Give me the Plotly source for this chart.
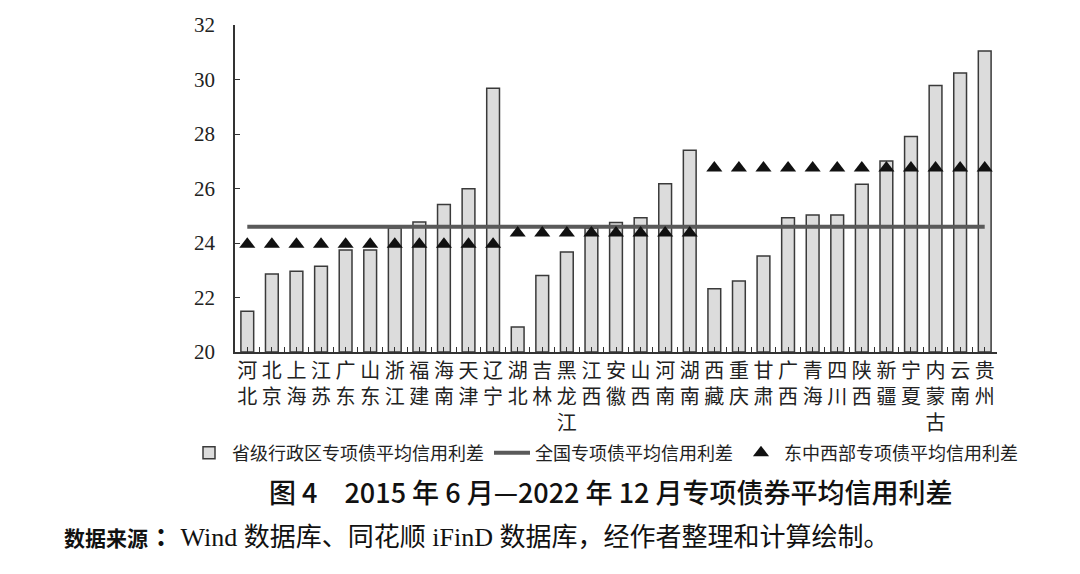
import plotly.graph_objects as go

provinces = ["河北", "北京", "上海", "江苏", "广东", "山东", "浙江", "福建", "海南", "天津", "辽宁",
             "湖北", "吉林", "黑龙江", "江西", "安徽", "山西", "河南", "湖南",
             "西藏", "重庆", "甘肃", "广西", "青海", "四川", "陕西", "新疆", "宁夏", "内蒙古", "云南", "贵州"]
province_spread = [21.5, 22.86, 22.96, 23.15, 23.74, 23.74, 24.55, 24.77, 25.41, 25.99, 29.68,
                   20.92, 22.81, 23.67, 24.55, 24.75, 24.93, 26.17, 27.4,
                   22.32, 22.61, 23.52, 24.93, 25.03, 25.03, 26.16, 27.01, 27.91, 29.78, 30.24, 31.05]
national_spread = 24.6
region_spread = {"东部": 23.95, "中部": 24.37, "西部": 26.75}
region_of = ["东部"] * 11 + ["中部"] * 8 + ["西部"] * 12

y_ticks = [20, 22, 24, 26, 28, 30, 32]

idx = list(range(len(provinces)))
tick_text = ["<br>".join(list(p)) for p in provinces]

serif = "Liberation Serif, Noto Sans CJK SC"
cjk = "Noto Sans CJK SC"

fig = go.Figure()
fig.add_trace(go.Bar(
    x=idx, y=[v - 20 for v in province_spread], base=20,
    width=0.52,
    marker=dict(color="#dcdcdc", line=dict(color="#3a3a3a", width=1.5)),
    name="省级行政区专项债平均信用利差",
))
fig.add_trace(go.Scatter(
    x=idx, y=[national_spread] * len(idx), mode="lines",
    line=dict(color="#5a5a5a", width=4),
    name="全国专项债平均信用利差",
))
fig.add_trace(go.Scatter(
    x=idx, y=[region_spread[r] for r in region_of], mode="markers",
    marker=dict(symbol="triangle-up", color="#111111", size=14),
    name="东中西部专项债平均信用利差",
))

fig.update_layout(
    width=1080, height=574,
    margin=dict(l=235, r=83, t=25, b=222),
    paper_bgcolor="white", plot_bgcolor="white",
    showlegend=True,
    legend=dict(orientation="h", x=(186 - 235) / 762, xanchor="left", y=-0.309, yanchor="middle",
                font=dict(family=cjk, size=18, color="#222"), itemwidth=36,
                traceorder="normal", tracegroupgap=0, bgcolor="rgba(0,0,0,0)"),
    bargap=0.5,
)
fig.update_xaxes(
    range=[-0.5, 30.5], tickmode="array", tickvals=idx, ticktext=tick_text,
    showline=True, linecolor="#333", linewidth=1.5,
    ticks="inside", ticklen=5, tickcolor="#333",
    minor=dict(ticks="inside", ticklen=5, tickcolor="#333", tick0=0.5, dtick=1),
    tickfont=dict(family=cjk, size=20, color="#222"),
    showgrid=False, zeroline=False, tickangle=0,
)
fig.update_yaxes(
    range=[20, 32], tickmode="array", tickvals=y_ticks,
    showline=True, linecolor="#333", linewidth=1.5,
    ticks="inside", ticklen=5, tickcolor="#333",
    ticklabelstandoff=14,
    tickfont=dict(family=serif, size=21, color="#222"),
    showgrid=False, zeroline=False,
)

fig.add_annotation(
    text="图 4　2015 年 6 月—2022 年 12 月专项债券平均信用利差",
    xref="paper", yref="paper", x=(611 - 235) / 762, y=-0.428,
    xanchor="center", yanchor="middle", showarrow=False,
    font=dict(family=cjk, size=27, color="#111", weight=500),
)
fig.add_annotation(
    text="<span style='font-size:21px;font-family:Noto Sans CJK SC'><b>数据来源</b></span>"
         "<b> ：</b>Wind 数据库、同花顺 iFinD 数据库，经作者整理和计算绘制。",
    xref="paper", yref="paper", x=(62 - 235) / 762, y=-0.566,
    xanchor="left", yanchor="middle", showarrow=False,
    font=dict(family=serif, size=26, color="#111"),
)

fig.write_html("out.html", post_script="document.body.style.margin='0';",
               config={"displayModeBar": False})
